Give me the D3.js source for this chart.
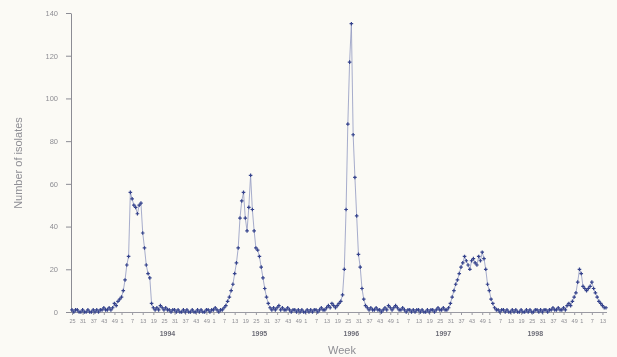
<!DOCTYPE html>
<html>
<head>
<meta charset="utf-8">
<script src="https://cdn.jsdelivr.net/npm/d3@7"></script>
<style>
  body { margin: 0; background: #fbfaf5; }
  svg { display: block; font-family: "Liberation Sans", Arial, sans-serif; }
</style>
</head>
<body>
<div class="chart"></div>
<script>
var svgWidth = 617;
var svgHeight = 357;

// first plotted week is week 25 of 1993
var startYear = 1993;
var startWeek = 25;

var weekTicks = [1, 7, 13, 19, 25, 31, 37, 43, 49];
var yearLabels = ["1994", "1995", "1996", "1997", "1998"];
var yTicks = [0, 20, 40, 60, 80, 100, 120, 140];

// weekly number of isolates
var isolates = [
  1, 0, 1, 1, 0, 0, 1, 0, 0, 1, 0, 0, 1, 0, 1, 0, 1, 1, 2, 1, 1, 2,
  1, 2, 4, 3, 5, 6, 7, 10, 15, 22, 26, 56, 53, 50, 49, 46, 50, 51, 37, 30, 22, 18, 16, 4, 2, 1,
  2, 1, 3, 2, 1, 2, 1, 1, 0, 1, 1, 0, 1, 0, 0, 1, 0, 1, 0, 0, 1, 0, 0, 1, 0, 1, 0, 0, 1, 1, 0, 1, 1, 2, 1, 0, 1,
  1, 2, 3, 5, 7, 10, 13, 18, 23, 30, 44, 52, 56, 44, 38, 49, 64, 48, 38, 30, 29, 26, 21, 16, 11, 7, 4, 2, 1,
  2, 1, 2, 3, 1, 2, 1, 1, 2, 1, 0, 1, 1, 0, 1, 0, 1, 0, 0, 1, 0, 1, 0, 1, 1, 0, 1, 2, 1, 1, 2, 3, 2, 4, 3, 2, 3, 4, 5,
  8, 20, 48, 88, 117, 135, 83, 63, 45, 27, 21, 11, 6, 3, 2, 1,
  2, 1, 1, 2, 1, 1, 0, 1, 2, 1, 3, 2, 1, 2, 3, 2, 1, 1, 2, 1, 0, 1, 1, 0, 1, 0, 1, 1, 0, 1, 0, 0, 1, 0, 1, 1, 0, 1, 2, 1, 1, 2, 1,
  1, 2, 4, 7, 10, 13, 15, 18, 21, 23, 26, 24, 22, 20, 24, 25, 23, 22, 26, 24, 28, 25, 20, 13, 10, 6, 4, 2, 1,
  1, 0, 1, 1, 0, 1, 0, 0, 1, 0, 1, 0, 0, 1, 0, 0, 1, 0, 1, 0, 0, 1, 1, 0, 1, 0, 1, 1, 0, 1, 1, 2, 1, 1, 2,
  1, 1, 2, 1, 3, 4, 3, 5, 7, 9, 14, 20, 18, 12, 11, 10, 11, 12, 14, 11, 9, 7, 5, 4, 3, 2, 2
];

function weekOf(i) {
  var w = startWeek - 1 + i;
  return { year: startYear + Math.floor(w / 52), week: (w % 52) + 1 };
}

var svg = d3.select(".chart")
  .append("svg")
  .attr("width", svgWidth)
  .attr("height", svgHeight);

svg.append("defs").append("filter")
  .attr("id", "soft")
  .append("feGaussianBlur")
  .attr("stdDeviation", 0.5);

var chartGroup = svg.append("g").attr("filter", "url(#soft)");

var xScale = d3.scaleLinear()
  .domain([0, isolates.length - 1])
  .range([72, 606]);

var yScale = d3.scaleLinear()
  .domain([0, 140])
  .range([312, 13]);

// Axes
var tickIdx = d3.range(isolates.length).filter(i => weekTicks.includes(weekOf(i).week));

var bottomAxis = d3.axisBottom(xScale)
  .tickValues(tickIdx)
  .tickFormat(i => weekOf(i).week)
  .tickSize(3)
  .tickSizeOuter(0)
  .tickPadding(4);

var leftAxis = d3.axisLeft(yScale)
  .tickValues(yTicks)
  .tickSize(5)
  .tickSizeOuter(0)
  .tickPadding(8);

var xAxisG = chartGroup.append("g")
  .attr("transform", "translate(0, 312)")
  .call(bottomAxis);
xAxisG.select(".domain").attr("stroke", "#9a9aa2").attr("d", "M71,0.5H607");
xAxisG.selectAll(".tick line").attr("stroke", "#9a9aa2");
xAxisG.selectAll(".tick text").attr("fill", "#8e8e94").style("font-size", "5.5px");

var yAxisG = chartGroup.append("g")
  .attr("transform", "translate(71, 0)")
  .call(leftAxis);
yAxisG.select(".domain").attr("stroke", "#8c8c94");
yAxisG.selectAll(".tick line").attr("stroke", "#8c8c94");
yAxisG.selectAll(".tick text").attr("fill", "#8e8e94").style("font-size", "7.5px");

// Year labels under the week ticks
chartGroup.selectAll(".year")
  .data(yearLabels)
  .enter()
  .append("text")
  .attr("class", "year")
  .attr("x", d => xScale(52 * (+d - startYear) + 27 - startWeek))
  .attr("y", 336)
  .attr("text-anchor", "middle")
  .attr("fill", "#6e6e78")
  .style("font-size", "7px")
  .style("font-weight", "bold")
  .text(d => d);

// Series line and markers
var line = d3.line()
  .x((d, i) => xScale(i))
  .y(d => yScale(d));

chartGroup.append("path")
  .datum(isolates)
  .attr("fill", "none")
  .attr("stroke", "#9098c0")
  .attr("stroke-width", 0.8)
  .attr("d", line);

chartGroup.selectAll(".pt")
  .data(isolates)
  .enter()
  .append("path")
  .attr("class", "pt")
  .attr("transform", (d, i) => `translate(${xScale(i)}, ${yScale(d)})`)
  .attr("d", "M-1.8,0H1.8M0,-1.8V1.8")
  .attr("stroke", "#34428c")
  .attr("stroke-width", 1.2);

// Axis titles
chartGroup.append("text")
  .attr("transform", "rotate(-90)")
  .attr("x", -163)
  .attr("y", 22)
  .attr("text-anchor", "middle")
  .attr("fill", "#8e8e94")
  .style("font-size", "11px")
  .text("Number of isolates");

chartGroup.append("text")
  .attr("x", 342)
  .attr("y", 354)
  .attr("text-anchor", "middle")
  .attr("fill", "#8e8e94")
  .style("font-size", "11px")
  .text("Week");
</script>
</body>
</html>
